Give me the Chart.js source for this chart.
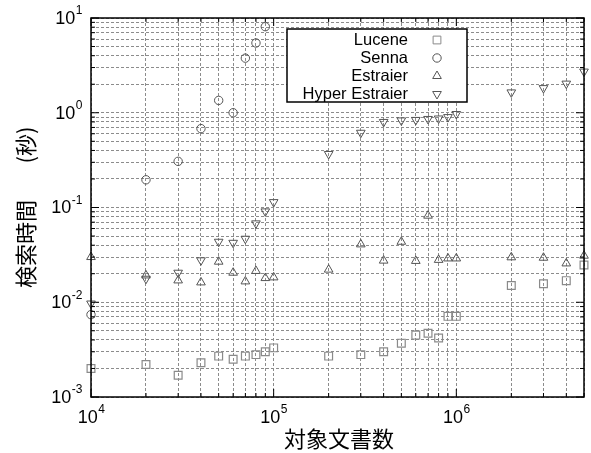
<!DOCTYPE html>
<html>
<head>
<meta charset="utf-8">
<script src="https://cdn.jsdelivr.net/npm/chart.js@4.4.0/dist/chart.umd.min.js"></script>
<style>
  html, body { margin: 0; padding: 0; background: #fff; }
  #wrap { width: 591px; height: 453px; }
</style>
</head>
<body>
<div id="wrap"><canvas id="chart" width="591" height="453"></canvas></div>
<script>
// -------------------------
// Data
// -------------------------
const docCounts = [1e4, 2e4, 3e4, 4e4, 5e4, 6e4, 7e4, 8e4, 9e4, 1e5,
                   2e5, 3e5, 4e5, 5e5, 6e5, 7e5, 8e5, 9e5, 1e6,
                   2e6, 3e6, 4e6, 5e6];
const luceneTimes = [0.0020, 0.0022, 0.0017, 0.0023, 0.0027, 0.0025, 0.0027, 0.0028, 0.0030, 0.0033,
                     0.0027, 0.0028, 0.0030, 0.0037, 0.0045, 0.0047, 0.0042, 0.0071, 0.0071,
                     0.015, 0.0157, 0.0169, 0.0247];
const sennaDocs = [1e4, 2e4, 3e4, 4e4, 5e4, 6e4, 7e4, 8e4, 9e4];
const sennaTimes = [0.0074, 0.196, 0.307, 0.68, 1.35, 1.0, 3.77, 5.45, 8.1];
const estraierTimes = [0.030, 0.0192, 0.017, 0.0162, 0.0268, 0.0205, 0.0166, 0.0214, 0.018, 0.0183,
                       0.0221, 0.0408, 0.0275, 0.0435, 0.0273, 0.082, 0.028, 0.029, 0.029,
                       0.0298, 0.0295, 0.0257, 0.031];
const hyperTimes = [0.0097, 0.0177, 0.0205, 0.0277, 0.0435, 0.0424, 0.0468, 0.068, 0.091, 0.114,
                    0.367, 0.615, 0.80, 0.83, 0.84, 0.86, 0.87, 0.90, 0.97,
                    1.64, 1.82, 2.03, 2.72];
const seriesNames = ['Lucene', 'Senna', 'Estraier', 'Hyper Estraier'];
const xExponents = [4, 5, 6];
const yExponents = [-3, -2, -1, 0, 1];

const toPoints = (xs, ys) => xs.map((x, i) => ({ x, y: ys[i] }));

// log ticks at 1..9 x 10^n between min and max
function logTicks(min, max) {
    const out = [];
    for (let e = Math.floor(Math.log10(min)); e <= Math.ceil(Math.log10(max)); e++) {
        for (let m = 1; m <= 9; m++) {
            const v = m * Math.pow(10, e);
            if (v >= min * 0.9999 && v <= max * 1.0001) out.push({ value: v });
        }
    }
    return out;
}

const FONT = '"Liberation Sans", Arial, sans-serif';
const JP_FONT = '"Noto Sans CJK JP", sans-serif';

// -------------------------
// Frame, inward ticks, tick labels, titles, legend
// -------------------------
const decorations = {
    id: 'decorations',
    afterDatasetsDraw(chart) {
        const { ctx, chartArea: a, scales: { x, y } } = chart;
        ctx.save();

        // frame
        ctx.strokeStyle = '#000';
        ctx.lineWidth = 1.5;
        ctx.setLineDash([]);
        ctx.strokeRect(a.left, a.top, a.right - a.left, a.bottom - a.top);

        // ticks pointing inward
        ctx.lineWidth = 1;
        x.ticks.forEach(t => {
            const px = x.getPixelForValue(t.value);
            const major = Math.abs(Math.log10(t.value) % 1) < 1e-6;
            const len = major ? 8 : 4;
            ctx.beginPath();
            ctx.moveTo(px, a.bottom); ctx.lineTo(px, a.bottom - len);
            ctx.moveTo(px, a.top); ctx.lineTo(px, a.top + len);
            ctx.stroke();
        });
        y.ticks.forEach(t => {
            const py = y.getPixelForValue(t.value);
            const major = Math.abs(Math.log10(t.value) % 1) < 1e-6;
            const len = major ? 8 : 4;
            ctx.beginPath();
            ctx.moveTo(a.left, py); ctx.lineTo(a.left + len, py);
            ctx.moveTo(a.right, py); ctx.lineTo(a.right - len, py);
            ctx.stroke();
        });

        // power-of-ten labels
        ctx.fillStyle = '#000';
        ctx.textBaseline = 'middle';
        const drawPow = (e, px, py, align) => {
            ctx.font = '18px ' + FONT;
            const base = '10';
            const bw = ctx.measureText(base).width;
            ctx.font = '12px ' + FONT;
            const exp = String(e);
            const ew = ctx.measureText(exp).width;
            let left = align === 'right' ? px - bw - ew : px - (bw + ew) / 2;
            ctx.font = '18px ' + FONT;
            ctx.textAlign = 'left';
            ctx.fillText(base, left, py);
            ctx.font = '12px ' + FONT;
            ctx.fillText(exp, left + bw + 0.5, py - 8);
        };
        yExponents.forEach(e => drawPow(e, a.left - 9, y.getPixelForValue(Math.pow(10, e)) + 1, 'right'));
        xExponents.forEach(e => drawPow(e, x.getPixelForValue(Math.pow(10, e)), a.bottom + 21, 'center'));

        // axis titles
        ctx.font = '22px ' + JP_FONT;
        ctx.textAlign = 'center';
        ctx.fillText('対象文書数', 339, 439);
        ctx.save();
        ctx.translate(26, 0);
        ctx.rotate(-Math.PI / 2);
        ctx.fillText('検索時間', -244, 0);
        ctx.fillText('(秒)', -145, 0);
        ctx.restore();

        // legend box
        const bx = 287, by = 29, bw = 180, bh = 73;
        ctx.fillStyle = '#fff';
        ctx.fillRect(bx, by, bw, bh);
        ctx.strokeStyle = '#000';
        ctx.lineWidth = 1.5;
        ctx.strokeRect(bx, by, bw, bh);
        ctx.font = '16.5px ' + FONT;
        ctx.textAlign = 'right';
        chart.data.datasets.forEach((ds, i) => {
            const ly = by + 11 + i * 18;
            ctx.fillStyle = '#000';
            ctx.fillText(seriesNames[i], 408, ly);
            ctx.strokeStyle = ds.pointBorderColor;
            ctx.fillStyle = 'rgba(0,0,0,0)';
            ctx.lineWidth = 1;
            Chart.helpers.drawPoint(ctx, {
                pointStyle: ds.pointStyle,
                rotation: ds.pointRotation || 0,
                radius: ds.pointRadius,
                borderWidth: 1
            }, 437, ly);
        });
        ctx.restore();
    }
};

const gridOpts = {
    color: '#8c8c8c',
    lineWidth: 1,
    drawTicks: false
};

new Chart(document.getElementById('chart'), {
    type: 'scatter',
    data: {
        datasets: [
            { label: seriesNames[0], data: toPoints(docCounts, luceneTimes), pointStyle: 'rect',
              pointRadius: 5.5, pointBorderColor: '#8a8a8a', pointBackgroundColor: 'rgba(0,0,0,0)', pointBorderWidth: 1.2 },
            { label: seriesNames[1], data: toPoints(sennaDocs, sennaTimes), pointStyle: 'circle',
              pointRadius: 4.2, pointBorderColor: '#555', pointBackgroundColor: 'rgba(0,0,0,0)', pointBorderWidth: 1 },
            { label: seriesNames[2], data: toPoints(docCounts, estraierTimes), pointStyle: 'triangle',
              pointRadius: 5, pointBorderColor: '#555', pointBackgroundColor: 'rgba(0,0,0,0)', pointBorderWidth: 1 },
            { label: seriesNames[3], data: toPoints(docCounts, hyperTimes), pointStyle: 'triangle', pointRotation: 180,
              pointRadius: 5, pointBorderColor: '#555', pointBackgroundColor: 'rgba(0,0,0,0)', pointBorderWidth: 1 }
        ]
    },
    options: {
        responsive: false,
        animation: false,
        clip: false,
        layout: { padding: { top: 18, right: 7, left: 0, bottom: 0 } },
        plugins: { legend: { display: false }, tooltip: { enabled: false } },
        scales: {
            x: {
                type: 'logarithmic', min: 1e4, max: 5e6,
                afterBuildTicks: s => { s.ticks = logTicks(1e4, 5e6); },
                afterFit: s => { s.height = 56; },
                ticks: { display: false },
                grid: gridOpts,
                border: { display: false, dash: [3, 2] }
            },
            y: {
                type: 'logarithmic', min: 1e-3, max: 1e1,
                afterBuildTicks: s => { s.ticks = logTicks(1e-3, 1e1); },
                afterFit: s => { s.width = 91; },
                ticks: { display: false },
                grid: gridOpts,
                border: { display: false, dash: [3, 2] }
            }
        }
    },
    plugins: [decorations]
});
</script>
</body>
</html>
